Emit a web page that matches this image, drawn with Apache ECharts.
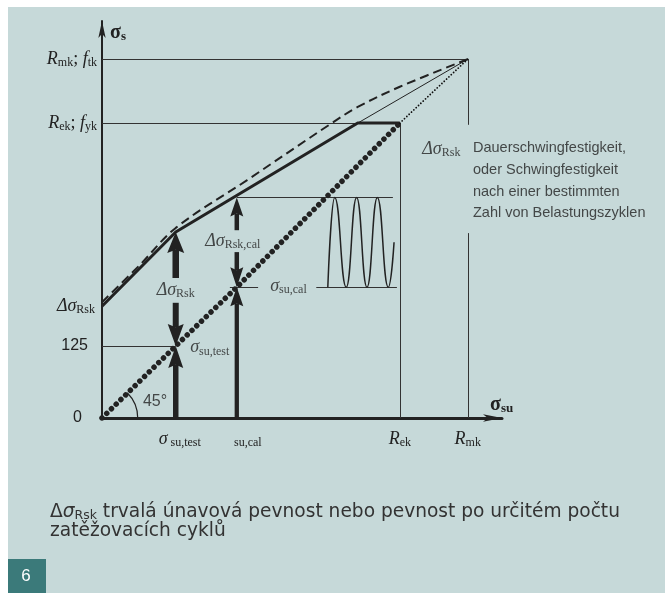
<!DOCTYPE html>
<html><head><meta charset="utf-8">
<script src="https://cdn.jsdelivr.net/npm/echarts@6/dist/echarts.min.js"></script>
<style>
html,body{margin:0;padding:0;background:#fff;}
#bg{position:absolute;left:8px;top:7px;right:0;bottom:0;background:#c6d9d9;}
#c{position:absolute;left:0;top:0;width:665px;height:593px;}
</style></head>
<body><div id="bg"></div><div id="c"></div>
<script>
// ---- data (stress units) ----
const yTickValues = [0, 125, 194, 512, 623];            // 0, 125, Δσ_Rsk, R_ek, R_mk
const yTickLabels = ['{n0|0}', '{n1|125}', '{i|Δσ}{sy|Rsk}', '{i|R}{s|ek}{r|; }{i|f}{s|yk}', '{i|R}{s|mk}{r|; }{i|f}{s|tk}'];
const xTickValues = [128, 234, 517, 635];                // σsu,test, σsu,cal, R_ek, R_mk
const xTickLabels = ['{ip|σ}{s2|su,test}', '{sc|su,cal}', '{i|R}{s|ek}', '{i|R}{s|mk}'];

const limitX = [0, 128, 444, 517];          // thick upper limit line
const limitY = [194, 323, 512, 512];
const tensileX = [444, 635];                // thin line to R_mk
const tensileY = [512, 623];
const dashedX = [0, 66, 128, 252, 396, 444, 517, 635];
const dashedY = [201, 266, 330, 413, 510, 540, 575, 623];
const diagX = [0, 128, 234, 517];           // 45° line (thick dotted)
const diagY = [0, 125, 227, 512];
const diagTopX = [517, 635];                // thin dotted to R_mk
const diagTopY = [512, 623];
const calLevels = [227, 383];               // σsu,cal and σsu,cal + Δσ_Rsk,cal
const waveX = [392, 404, 424, 442, 460, 478, 497, 507];
const waveY = [227, 383, 227, 383, 227, 383, 227, 305];
const rmkLineBreak = [509, 321];            // gap in the R_mk vertical for the note
const arrowX = [128, 128, 128, 234, 234, 234];
const arrowTail = [0, 200, 243, 0, 288, 326];
const arrowTip = [125, 125, 323, 227, 227, 383];
const arcRadius = 62;
const noteX = [128, 227, 153, 292, 71, 556, 644];
const noteY = [222, 307, 122, 229, 28, 467, 412];
const noteText = [
  '{i|Δσ}{s|Rsk}', '{i|Δσ}{s|Rsk,cal}', '{i|σ}{s|su,test}', '{i|σ}{s|su,cal}', '{n|45°}', '{i|Δσ}{s|Rsk}',
  '{t|Dauerschwingfestigkeit,}\n{t|oder Schwingfestigkeit}\n{t|nach einer bestimmten}\n{t|Zahl von Belastungszyklen}'
];
const noteAlign = ['center', 'center', 'left', 'left', 'left', 'left', 'left'];

// ---- styles ----
const INK = '#222';
const SERIF = 'Liberation Serif';
const SANS = '"Liberation Sans", Arial';
const rich = {
  i: {fontFamily: SERIF, fontStyle: 'italic', fontSize: 18, color: INK},
  ip: {fontFamily: SERIF, fontStyle: 'italic', fontSize: 18, color: INK, padding: [0, 0, 0, 8]},
  r: {fontFamily: SERIF, fontSize: 18, color: INK},
  s: {fontFamily: SERIF, fontSize: 12, color: INK, padding: [8, 0, 0, 0]},
  s2: {fontFamily: SERIF, fontSize: 12, color: INK, padding: [8, 0, 0, 3]},
  sc: {fontFamily: SERIF, fontSize: 12, color: INK, padding: [8, 0, 0, 22]},
  sy: {fontFamily: SERIF, fontSize: 12, color: INK, padding: [8, 2, 0, 0]},
  n: {fontFamily: SANS, fontSize: 16, color: INK},
  n0: {fontFamily: SANS, fontSize: 16, color: INK, padding: [0, 15, 0, 0]},
  n1: {fontFamily: SANS, fontSize: 16, color: INK, padding: [0, 9, 0, 0]},
  t: {fontFamily: SANS, fontSize: 14.5, color: INK, lineHeight: 21.7},
  b: {fontFamily: SERIF, fontWeight: 'bold', fontSize: 20, color: INK},
  bs: {fontFamily: SERIF, fontWeight: 'bold', fontSize: 13, color: INK, padding: [8, 0, 0, 0]}
};
const arrowStyle = [
  {shaft: 5.5, head: 15, len: 22}, {shaft: 6, head: 16, len: 22}, {shaft: 6.5, head: 17, len: 21},
  {shaft: 4.3, head: 13, len: 19}, {shaft: 4.5, head: 13, len: 20}, {shaft: 4.5, head: 13, len: 19}
];

const pairs = (xs, ys) => xs.map((x, k) => [x, ys[k]]);
const Rek = yTickValues[3], Rmk = yTickValues[4];
const RekX = xTickValues[2], RmkX = xTickValues[3];
const calX = xTickValues[1], testX = xTickValues[0];
const guides = [
  [[0, Rmk], [RmkX, Rmk]],
  [[0, Rek], [RekX, Rek]],
  [[0, yTickValues[1]], [testX, yTickValues[1]]],
  [[RekX, Rek], [RekX, 0]],
  [[RmkX, Rmk], [RmkX, rmkLineBreak[0]]],
  [[RmkX, rmkLineBreak[1]], [RmkX, 0]],
  [[calX, calLevels[1]], [505, calLevels[1]]],
  [[222, calLevels[0]], [271, calLevels[0]]],
  [[372, calLevels[0]], [512, calLevels[0]]]
];

const lineSeries = (data, lineStyle, extra) => Object.assign({
  type: 'line', data, symbol: 'none', silent: true, lineStyle: Object.assign({color: INK}, lineStyle)
}, extra || {});

const chart = echarts.init(document.getElementById('c'), null, {renderer: 'canvas'});
chart.setOption({
  animation: false,
  backgroundColor: 'transparent',
  grid: {left: 102, right: 163, top: 21, bottom: 175},
  xAxis: {
    type: 'value', min: 0, max: 694.4,
    axisLine: {show: true, symbol: ['none', 'arrow'], symbolSize: [5.5, 19], lineStyle: {color: INK, width: 3}},
    axisTick: {show: false}, splitLine: {show: false},
    axisLabel: {customValues: xTickValues, margin: 11, rich,
      formatter: v => xTickLabels[xTickValues.indexOf(v)]},
    name: '{b|σ}{bs|su}', nameLocation: 'end', nameGap: -12,
    nameTextStyle: {align: 'left', verticalAlign: 'bottom', padding: [0, 0, 3, 0], rich}
  },
  yAxis: {
    type: 'value', min: 0, max: 689.2,
    axisLine: {show: true, symbol: ['none', 'arrow'], symbolSize: [5.5, 17], lineStyle: {color: INK, width: 2}},
    axisTick: {show: false}, splitLine: {show: false},
    axisLabel: {customValues: yTickValues, margin: 5, rich,
      formatter: v => yTickLabels[yTickValues.indexOf(v)]},
    name: '{b|σ}{bs|s}', nameLocation: 'end', nameGap: -12,
    nameTextStyle: {align: 'left', verticalAlign: 'middle', padding: [0, 0, 0, 8], rich}
  },
  graphic: [
    {type: 'rect', shape: {x: 8, y: 559, width: 38, height: 34}, style: {fill: '#3b7a7a'}},
    {type: 'text', x: 26, y: 576, style: {text: '6', fill: '#fff', font: '17px "Liberation Sans", Arial', align: 'center', verticalAlign: 'middle'}},
    {type: 'text', x: 50, y: 502, style: {
      text: '{a|Δ}{g|σ}{u|Rsk}{a| trvalá únavová pevnost nebo pevnost po určitém počtu}\n{a|zatěžovacích cyklů}',
      rich: {
        a: {fontFamily: 'DejaVu Sans', fontSize: 18.6, fill: '#333', lineHeight: 19.5},
        g: {fontFamily: 'DejaVu Sans', fontStyle: 'italic', fontSize: 18.6, fill: '#333', lineHeight: 19.5},
        u: {fontFamily: 'DejaVu Sans', fontSize: 12.5, fill: '#333', lineHeight: 12, padding: [7, 0, 0, 0]}
      }}}
  ],
  series: [
    {type: 'lines', coordinateSystem: 'cartesian2d', silent: true, z: 1,
      lineStyle: {color: '#333', width: 1, opacity: 1},
      data: guides.map(c => ({coords: c}))},
    lineSeries(pairs(tensileX, tensileY), {width: 1}),
    lineSeries(pairs(dashedX, dashedY), {width: 2, type: [9, 5]}, {smooth: 0.35}),
    lineSeries(pairs(limitX, limitY), {width: 3, join: 'round'}),
    lineSeries(pairs(diagX, diagY), {width: 5.5, type: [0.01, 6.6], cap: 'round'}),
    lineSeries(pairs(diagTopX, diagTopY), {width: 1.8, type: [0.01, 3.2], cap: 'round', color: '#111'}),
    lineSeries(pairs(waveX, waveY), {width: 1.5}, {smooth: 0.5, smoothMonotone: 'x'}),
    {type: 'custom', silent: true, data: [[0, 0, arcRadius]],
      renderItem: (p, api) => {
        const c = api.coord([api.value(0), api.value(1)]);
        const r = api.coord([api.value(2), 0])[0] - c[0];
        return {type: 'arc', shape: {cx: c[0], cy: c[1], r, startAngle: -Math.PI / 4, endAngle: 0, clockwise: true},
          style: {stroke: INK, lineWidth: 1.2, fill: null}};
      }},
    {type: 'custom', silent: true, z: 5,
      data: arrowX.map((x, k) => [x, arrowTail[k], arrowTip[k]]),
      encode: {x: 0, y: [1, 2]},
      renderItem: (p, api) => {
        const s = arrowStyle[p.dataIndex];
        const tail = api.coord([api.value(0), api.value(1)]);
        const tip = api.coord([api.value(0), api.value(2)]);
        const dir = tail[1] > tip[1] ? 1 : -1;
        const base = tip[1] + dir * s.len;
        const notch = tip[1] + dir * s.len * 0.85;
        const y0 = Math.min(notch, tail[1]), y1 = Math.max(notch, tail[1]);
        return {type: 'group', children: [
          {type: 'rect', shape: {x: tip[0] - s.shaft / 2, y: y0, width: s.shaft, height: y1 - y0}, style: {fill: INK}},
          {type: 'polygon', shape: {points: [[tip[0], tip[1]], [tip[0] + s.head / 2, base], [tip[0], notch], [tip[0] - s.head / 2, base]]},
            style: {fill: INK}}
        ]};
      }},
    {type: 'scatter', silent: true, z: 6, symbolSize: 1, itemStyle: {color: 'transparent'},
      data: noteX.map((x, k) => ({value: [x, noteY[k]],
        label: {show: true, position: 'inside', formatter: noteText[k], align: noteAlign[k], verticalAlign: 'middle', rich}}))}
  ]
});
</script>
</body></html>
